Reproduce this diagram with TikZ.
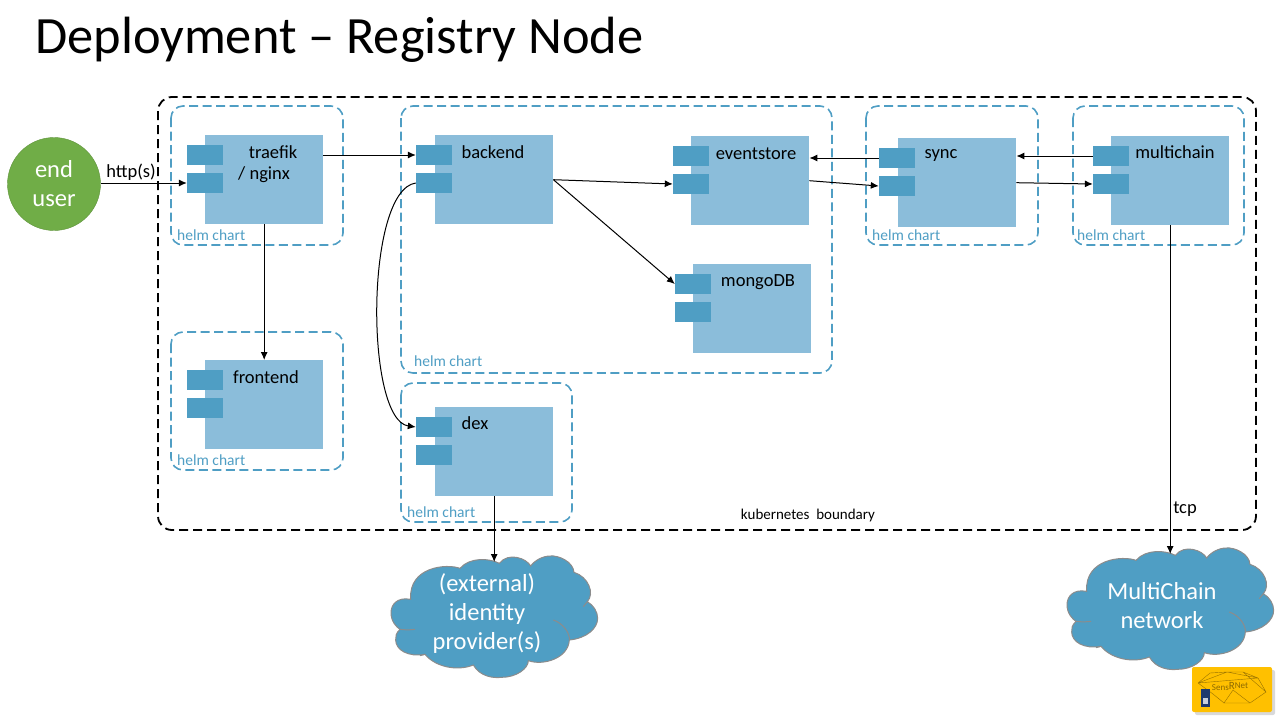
\documentclass[tikz,border=0pt]{standalone}
\usepackage{fontspec}
\setmainfont{Carlito}
\usetikzlibrary{arrows.meta,shadows}

\definecolor{bluebody}{HTML}{8BBDDA}
\definecolor{blueport}{HTML}{4F9EC4}
\definecolor{greenuser}{HTML}{70AD47}
\definecolor{logoyellow}{HTML}{FFC000}
\definecolor{logonavy}{HTML}{1F3A6E}

\tikzset{
  compbody/.style={fill=bluebody, minimum width=118pt, minimum height=89pt, inner sep=0pt, anchor=north west},
  portbox/.style={fill=blueport, minimum width=36pt, minimum height=20pt, inner sep=0pt},
  helmbox/.style={draw=blueport, line width=1.6pt, dash pattern=on 9pt off 4.5pt, rounded corners=12pt},
  helmlabel/.style={text=blueport, font=\fontsize{15.5}{18}\selectfont, anchor=west, inner sep=0pt},
  complabel/.style={font=\fontsize{18.5}{22}\selectfont, inner sep=0pt},
  cloudlabel/.style={text=white, align=center, font=\fontsize{24.5}{29}\selectfont, inner sep=0pt},
  conn/.style={-{Latex[length=8pt,width=7pt]}, line width=1pt},
  cloudpic/.pic={
    \begin{scope}[scale=1/3]
      \draw[fill=blueport, draw=gray!90, line width=1pt]
        (92,178) .. controls (50,170) and (33,195) .. (33,218)
        .. controls (33,245) and (50,262) .. (60,268)
        .. controls (47,280) and (47,290) .. (47,300)
        .. controls (47,330) and (85,352) .. (135,343)
        .. controls (165,380) and (230,395) .. (280,375)
        .. controls (300,410) and (340,415) .. (365,412)
        .. controls (410,412) and (445,385) .. (445,362)
        .. controls (490,378) and (565,355) .. (568,300)
        .. controls (620,295) and (653,265) .. (653,235)
        .. controls (653,215) and (640,195) .. (622,185)
        .. controls (645,160) and (625,110) .. (582,97)
        .. controls (580,65) and (535,45) .. (510,48)
        .. controls (490,48) and (465,60) .. (452,78)
        .. controls (440,55) and (385,35) .. (358,70)
        .. controls (330,55) and (270,50) .. (240,85)
        .. controls (200,70) and (85,80) .. (92,178) -- cycle;
      \draw[draw=gray!90, line width=1pt] (60,268) .. controls (75,270) and (90,270) .. (105,268);
      \draw[draw=gray!90, line width=1pt] (520,240) .. controls (550,250) and (570,280) .. (568,300);
      \draw[draw=gray!90, line width=1pt] (622,185) -- (610,200);
      \draw[draw=gray!90, line width=1pt] (135,343) -- (120,347);
      \coordinate (-top) at (343,66);
    \end{scope}
  }
}

\begin{document}
\begin{tikzpicture}[x=1pt, y=-1pt]
\useasboundingbox (0,0) rectangle (1280,720);

% Title
\node[anchor=west, inner sep=0pt, font=\fontsize{52.4}{60}\selectfont] (title) at (35,40) {Deployment -- Registry Node};

% Kubernetes boundary
\draw[line width=1.8pt, dash pattern=on 9pt off 5pt, rounded corners=14pt] (158,97) rectangle (1256,530);
\node[inner sep=0pt, font=\fontsize{15}{18}\selectfont] (boundarylabel) at (808,515) {kubernetes\ \ boundary};

% Helm charts
\foreach \nm/\xa/\ya/\xb/\yb/\lx/\ly in {traefik/171/106/343/245/177/235, frontend/171/332/343/470/177/460,
    backend/401/106/832/373/414/361, dex/401/383/572/522/407/512,
    sync/866/106/1038/245/872/235, multichain/1073/106/1244/245/1077/235}{
  \draw[helmbox] (\xa,\ya) rectangle (\xb,\yb);
  \node[helmlabel] (\nm-helm) at (\lx,\ly) {helm chart};
}

% Components
\foreach \nm/\x/\px/\y/\lx/\ly/\lab in {traefik/205/205/135/273/152/traefik, frontend/205/205/360/266/377/frontend,
    backend/435/434/135/493/152/backend, eventstore/691/691/136/756/154/eventstore, mongo/693/693/264/758/282/mongoDB,
    dex/435/434/407/475/423/dex, sync/898/897/138/941/156/sync, multichain/1111/1111/136/1175/152/multichain}{
  \node[compbody] (\nm) at (\x,\y) {};
  \node[portbox] (\nm-a) at (\px,\y+20) {};
  \node[portbox] (\nm-b) at (\px,\y+48) {};
  \node[complabel] (\nm-label) at (\lx,\ly) {\lab};
}
\node[complabel] (nginx-label) at (264,175) {/ nginx};

% End user
\node[circle, fill=greenuser, draw=greenuser!85!black, minimum size=93pt, inner sep=0pt, text=white, align=center,
  font=\fontsize{24.5}{29}\selectfont] (user) at (54,184) {end\\user};

% Clouds
\pic (ext) at (380,540) {cloudpic};
\pic (chain) at (1056,532) {cloudpic};
\node[cloudlabel] (ext-label) at (487,614) {(external)\\identity\\provider(s)};
\node[cloudlabel] (chain-label) at (1162,606) {MultiChain\\network};

% Connectors
\draw[conn] (user.east |- traefik-b) -- (traefik-b.west);
\node[complabel] (http-label) at (131,172) {http(s)};
\draw[conn] (traefik.east |- traefik-a) -- (backend-a.west);
\draw[conn] (frontend.north |- traefik.south) -- (frontend.north);
\draw[conn] (backend.east) -- (eventstore-b.west);
\draw[conn] (backend.east) -- (mongo-a.west);
\draw[conn] (backend-b.west) .. controls (365,190) and (365,420) .. (dex-a.west);
\draw[conn] (sync-a.west) -- (eventstore.east |- sync-a);
\draw[conn] (eventstore.east) -- (sync-b.west);
\draw[conn] (multichain-a.west) -- (sync.east |- multichain-a);
\draw[conn] (sync.east) -- (multichain-b.west);
\draw[conn] (dex.south) -- (dex.south |- ext-top);
\draw[conn] (multichain.south) -- (multichain.south |- chain-top);
\node[complabel] (tcp-label) at (1185,509) {tcp};

% Logo
\fill[logoyellow, rounded corners=2pt, drop shadow={shadow xshift=3pt, shadow yshift=-3pt, opacity=0.3}] (1192,667) rectangle (1272,712);
\draw[logoyellow!60!black, line width=0.4pt]
  (1198,683) -- (1210,673) -- (1227,672) -- (1243,672) -- (1258,678) -- (1266,692) -- (1250,703) -- (1224,703) -- (1213,694) -- (1198,683)
  (1198,683) -- (1227,672) -- (1258,678) (1243,672) -- (1266,692)
  (1213,694) -- (1224,703) -- (1233,690) -- (1250,703) (1198,683) -- (1258,678);
\fill[logonavy] (1201,689) rectangle (1210,707);
\fill[white!75!logonavy] (1203,698) rectangle (1208,704);
\node[inner sep=0pt, text=black!45!logoyellow, font=\fontsize{9}{10}\selectfont] (logotext) at (1230,686) {Sens\raisebox{1pt}{\fontsize{11}{11}\selectfont R}\raisebox{2pt}{Net}};

\end{tikzpicture}
\end{document}
